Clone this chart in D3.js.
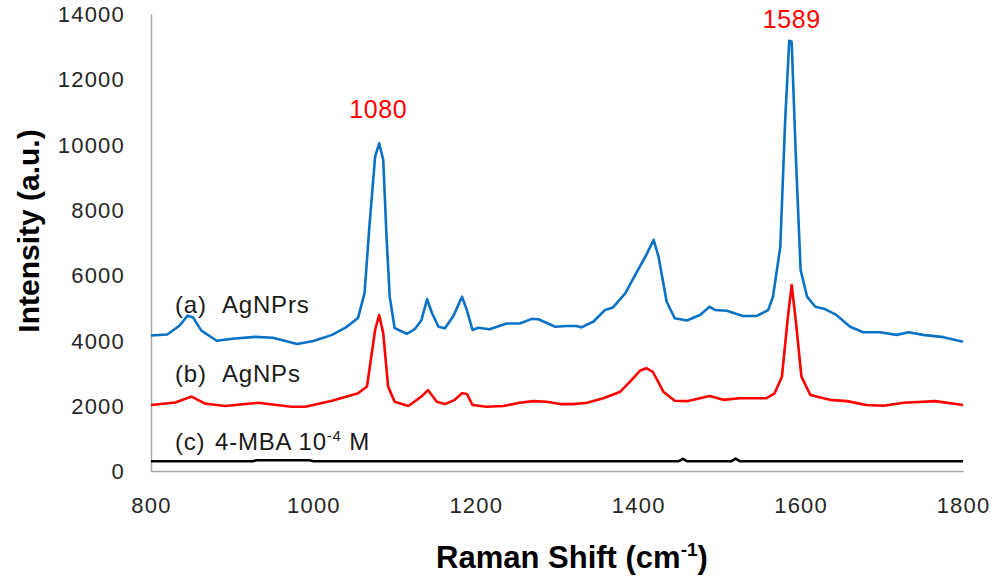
<!DOCTYPE html>
<html>
<head>
<meta charset="utf-8">
<script src="https://cdn.jsdelivr.net/npm/d3@7"></script>
<style>
  body { margin: 0; background: #fff; }
  text { font-family: "Liberation Sans", Arial, sans-serif; }
</style>
</head>
<body>
<div id="chart"></div>
<script>
// Raman shift (cm-1) and intensity (a.u.)
const agnprsShift = [800, 820, 835, 845, 852, 862, 881, 900, 928, 950, 980, 1000, 1023, 1040, 1055, 1063, 1069, 1076, 1081, 1086, 1090, 1094, 1100, 1115, 1125, 1133, 1140, 1146, 1154, 1162, 1172, 1183, 1189, 1196, 1203, 1217, 1238, 1254, 1269, 1277, 1298, 1312, 1324, 1330, 1345, 1359, 1369, 1384, 1394, 1410, 1419, 1425, 1435, 1445, 1460, 1476, 1488, 1495, 1509, 1529, 1546, 1560, 1566, 1575, 1581, 1586, 1589, 1594, 1600, 1608, 1618, 1630, 1644, 1661, 1677, 1698, 1718, 1733, 1751, 1776, 1800];
const agnprsInt = [4150, 4180, 4450, 4760, 4700, 4300, 3990, 4050, 4110, 4080, 3890, 3980, 4170, 4400, 4690, 5450, 7500, 9630, 10040, 9530, 7200, 5340, 4380, 4200, 4350, 4620, 5260, 4840, 4420, 4370, 4730, 5340, 4930, 4320, 4390, 4340, 4520, 4520, 4660, 4650, 4420, 4440, 4440, 4400, 4580, 4930, 5010, 5440, 5900, 6620, 7080, 6570, 5190, 4680, 4610, 4780, 5030, 4930, 4910, 4750, 4750, 4930, 5340, 6870, 10750, 13180, 13150, 9730, 6160, 5340, 5030, 4960, 4780, 4420, 4250, 4250, 4170, 4250, 4170, 4100, 3960];

const agnpsShift = [800, 830, 850, 866, 891, 932, 973, 990, 1023, 1055, 1066, 1076, 1081, 1086, 1092, 1100, 1117, 1133, 1141, 1152, 1162, 1174, 1183, 1189, 1196, 1213, 1234, 1254, 1271, 1287, 1304, 1320, 1337, 1357, 1378, 1392, 1402, 1410, 1418, 1431, 1445, 1460, 1488, 1505, 1525, 1558, 1568, 1577, 1584, 1589, 1594, 1601, 1612, 1636, 1657, 1681, 1702, 1727, 1766, 1800];
const agnpsInt = [2020, 2100, 2280, 2070, 1990, 2090, 1970, 1970, 2150, 2380, 2590, 4320, 4780, 4220, 2590, 2120, 1990, 2280, 2480, 2120, 2050, 2180, 2380, 2360, 2020, 1970, 1990, 2090, 2140, 2120, 2050, 2050, 2090, 2230, 2430, 2790, 3070, 3150, 3040, 2430, 2150, 2140, 2300, 2180, 2230, 2230, 2380, 2890, 4630, 5700, 4630, 2890, 2330, 2180, 2140, 2020, 2000, 2090, 2140, 2020];

const mbaShift = [800, 925, 930, 995, 1000, 1450, 1455, 1460, 1515, 1520, 1525, 1800];
const mbaInt = [300, 300, 330, 330, 300, 300, 370, 300, 300, 380, 300, 300];

const xTicks = [800, 1000, 1200, 1400, 1600, 1800];
const yTicks = [0, 2000, 4000, 6000, 8000, 10000, 12000, 14000];
const peakLabels = [1080, 1589];
const peakHeights = [10040, 13180];

const width = 994, height = 579;
const margin = {top: 14, right: 31, bottom: 108, left: 151};

const svg = d3.select('#chart')
  .append('svg')
  .attr('width', width)
  .attr('height', height);

const x = d3.scaleLinear()
  .domain([800, 1800])
  .range([margin.left, width - margin.right]);

const y = d3.scaleLinear()
  .domain([0, 14000])
  .range([height - margin.bottom, margin.top]);

// axes: plain grey lines, no tick marks
const xAxis = d3.axisBottom(x).tickValues(xTicks).tickSize(0).tickPadding(26).tickFormat(d3.format('d'));
const yAxis = d3.axisLeft(y).tickValues(yTicks).tickSize(0).tickPadding(26).tickFormat(d3.format('d'));

const gx = svg.append('g')
  .attr('transform', 'translate(0,' + (height - margin.bottom) + ')')
  .call(xAxis);
const gy = svg.append('g')
  .attr('transform', 'translate(' + margin.left + ',0)')
  .call(yAxis);

[gx, gy].forEach(function(g) {
  g.select('.domain').attr('stroke', '#a6a6a6').attr('stroke-width', 1.5);
  g.selectAll('.tick text')
    .attr('fill', '#262626')
    .style('font-size', '22px')
    .style('letter-spacing', '1.2px')
    .style('font-family', '"Liberation Sans", Arial, sans-serif');
});
gy.selectAll('.tick text').attr('dy', '0.35em');

const line = d3.line()
  .x(function(d) { return x(d[0]); })
  .y(function(d) { return y(d[1]); });

const series = [
  {name: 'AgNPrs', color: '#0a72c4', pts: d3.zip(agnprsShift, agnprsInt)},
  {name: 'AgNPs', color: '#ff0000', pts: d3.zip(agnpsShift, agnpsInt)},
  {name: '4-MBA', color: '#000000', pts: d3.zip(mbaShift, mbaInt)}
];

svg.selectAll('path.spec')
  .data(series)
  .enter()
  .append('path')
  .attr('class', 'spec')
  .attr('d', function(d) { return line(d.pts); })
  .attr('fill', 'none')
  .attr('stroke', function(d) { return d.color; })
  .attr('stroke-width', 2.6)
  .attr('stroke-linejoin', 'round');

// peak annotations, kept inside the top of the picture
svg.selectAll('text.peak')
  .data(peakLabels)
  .enter()
  .append('text')
  .attr('class', 'peak')
  .attr('x', function(d) { return x(d); })
  .attr('y', function(d, i) { return Math.max(y(peakHeights[i]) - 25, 28); })
  .attr('text-anchor', 'middle')
  .attr('fill', '#ff0000')
  .style('font-size', '25px')
  .style('letter-spacing', '0.6px')
  .text(function(d) { return d; });

// curve labels
const lab = svg.append('g').attr('fill', '#1a1a1a').style('font-size', '24px').style('letter-spacing', '0.8px');
const la = lab.append('text').attr('y', 313);
la.append('tspan').attr('x', 175).text('(a)');
la.append('tspan').attr('x', 222).text('AgNPrs');
const lb = lab.append('text').attr('y', 382);
lb.append('tspan').attr('x', 175).text('(b)');
lb.append('tspan').attr('x', 222).text('AgNPs');
const lc = lab.append('text').attr('y', 450);
lc.append('tspan').attr('x', 175).text('(c)');
lc.append('tspan').attr('x', 215).text('4-MBA 10');
lc.append('tspan').attr('dy', -9).style('font-size', '15px').text('-4');
lc.append('tspan').attr('dy', 9).text(' M');

// axis titles
const xt = svg.append('text')
  .attr('x', 572)
  .attr('y', 568)
  .attr('text-anchor', 'middle')
  .attr('fill', '#000')
  .style('font-size', '31px')
  .style('font-weight', 'bold');
xt.append('tspan').text('Raman Shift (cm');
xt.append('tspan').attr('dy', -12).style('font-size', '19px').text('-1');
xt.append('tspan').attr('dy', 12).text(')');

svg.append('text')
  .attr('transform', 'translate(39,231) rotate(-90)')
  .attr('text-anchor', 'middle')
  .attr('fill', '#000')
  .style('font-size', '30px')
  .style('font-weight', 'bold')
  .text('Intensity (a.u.)');
</script>
</body>
</html>
